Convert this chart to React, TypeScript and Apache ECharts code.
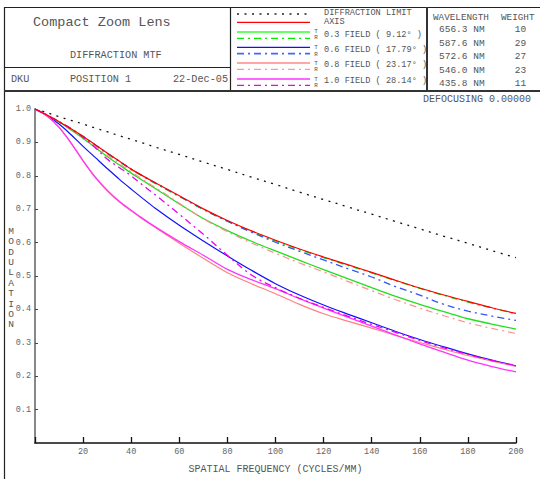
import React, { useEffect, useRef } from "react";
import * as echarts from "echarts";

const freq = [0, 5, 10, 15, 20, 25, 30, 35, 40, 45, 50, 60, 70, 80, 90, 100, 110, 120, 130, 140, 150, 160, 170, 180, 190, 200];
const xTicks = ["20", "40", "60", "80", "100", "120", "140", "160", "180", "200"];
const yTicks = ["0.1", "0.2", "0.3", "0.4", "0.5", "0.6", "0.7", "0.8", "0.9", "1.0"];

const diffLimit = [1.0, 0.989, 0.977, 0.966, 0.955, 0.943, 0.932, 0.92, 0.909, 0.898, 0.886, 0.864, 0.841, 0.819, 0.796, 0.774, 0.751, 0.729, 0.707, 0.685, 0.663, 0.641, 0.619, 0.598, 0.576, 0.555];
const axisMtf = [1.0, 0.982, 0.962, 0.941, 0.918, 0.893, 0.868, 0.844, 0.82, 0.799, 0.779, 0.74, 0.701, 0.666, 0.635, 0.607, 0.581, 0.557, 0.534, 0.511, 0.487, 0.464, 0.443, 0.424, 0.405, 0.388];
const f03T = [1.0, 0.981, 0.961, 0.937, 0.912, 0.885, 0.858, 0.833, 0.808, 0.785, 0.762, 0.716, 0.672, 0.636, 0.604, 0.575, 0.547, 0.519, 0.492, 0.465, 0.439, 0.415, 0.393, 0.372, 0.356, 0.341];
const f03R = [1.0, 0.982, 0.962, 0.94, 0.917, 0.892, 0.867, 0.843, 0.819, 0.798, 0.777, 0.738, 0.699, 0.664, 0.633, 0.605, 0.579, 0.555, 0.532, 0.509, 0.486, 0.463, 0.442, 0.422, 0.404, 0.387];
const f06T = [1.0, 0.98, 0.955, 0.923, 0.888, 0.855, 0.822, 0.79, 0.76, 0.731, 0.703, 0.652, 0.605, 0.56, 0.517, 0.477, 0.443, 0.413, 0.386, 0.36, 0.334, 0.31, 0.288, 0.267, 0.248, 0.231];
const f06R = [1.0, 0.982, 0.962, 0.941, 0.918, 0.893, 0.868, 0.844, 0.82, 0.799, 0.779, 0.739, 0.7, 0.664, 0.631, 0.601, 0.574, 0.548, 0.522, 0.497, 0.468, 0.443, 0.415, 0.395, 0.38, 0.367];
const f08T = [1.0, 0.979, 0.945, 0.898, 0.845, 0.795, 0.755, 0.722, 0.695, 0.669, 0.645, 0.598, 0.553, 0.51, 0.477, 0.447, 0.415, 0.387, 0.365, 0.344, 0.322, 0.301, 0.281, 0.262, 0.245, 0.229];
const f08R = [1.0, 0.982, 0.962, 0.939, 0.915, 0.889, 0.862, 0.837, 0.812, 0.788, 0.765, 0.718, 0.671, 0.633, 0.599, 0.568, 0.539, 0.512, 0.484, 0.456, 0.429, 0.404, 0.381, 0.36, 0.343, 0.328];
const f10T = [1.0, 0.979, 0.945, 0.898, 0.845, 0.797, 0.757, 0.724, 0.697, 0.671, 0.647, 0.603, 0.562, 0.52, 0.489, 0.462, 0.432, 0.404, 0.377, 0.35, 0.323, 0.297, 0.272, 0.248, 0.229, 0.213];
const f10R = [1.0, 0.982, 0.962, 0.94, 0.915, 0.885, 0.85, 0.825, 0.8, 0.771, 0.743, 0.685, 0.625, 0.562, 0.503, 0.465, 0.433, 0.406, 0.38, 0.355, 0.331, 0.307, 0.285, 0.265, 0.247, 0.232];

const fieldLabels = ["0.3 FIELD ( 9.12\u00b0 )", "0.6 FIELD ( 17.79\u00b0 )", "0.8 FIELD ( 23.17\u00b0 )", "1.0 FIELD ( 28.14\u00b0 )"];
const wavelengths = ["656.3 NM", "587.6 NM", "572.6 NM", "546.0 NM", "435.8 NM"];
const weights = ["10", "29", "27", "23", "11"];

const DOT = [2, 5.5];
const DASHDOT = [7, 4, 2, 4];
const FONT = "Liberation Mono";
const TXT = "#555555";

const seriesDefs = [
  { name: "DIFFRACTION LIMIT", data: diffLimit, color: "#111111", dash: DOT, width: 1.3 },
  { name: "0.3 T", data: f03T, color: "#22dd22", dash: "solid", width: 1.3 },
  { name: "0.3 R", data: f03R, color: "#00e000", dash: DASHDOT, width: 1.3 },
  { name: "0.6 T", data: f06T, color: "#1010ff", dash: "solid", width: 1.2 },
  { name: "0.6 R", data: f06R, color: "#3355ff", dash: DASHDOT, width: 1.3 },
  { name: "0.8 T", data: f08T, color: "#ff8080", dash: "solid", width: 1.2 },
  { name: "0.8 R", data: f08R, color: "#ff9090", dash: DASHDOT, width: 1.2 },
  { name: "1.0 T", data: f10T, color: "#ff33ff", dash: "solid", width: 1.3 },
  { name: "1.0 R", data: f10R, color: "#ee00ee", dash: DASHDOT, width: 1.3 },
  { name: "AXIS", data: axisMtf, color: "#ff0000", dash: "solid", width: 1.2 },
];

const legendRows = [
  { y: 14, color: "#222222", dash: DOT, width: 1.5 },
  { y: 22.3, color: "#ff0000", dash: null, width: 1.2 },
  { y: 32, color: "#66ff66", dash: null, width: 2.2 },
  { y: 38.3, color: "#00ee00", dash: DASHDOT, width: 1.3 },
  { y: 47.3, color: "#1010ff", dash: null, width: 1.3 },
  { y: 53.7, color: "#4466ff", dash: DASHDOT, width: 1.8 },
  { y: 63, color: "#ff8888", dash: null, width: 1.3 },
  { y: 69.3, color: "#ff9999", dash: DASHDOT, width: 1.3 },
  { y: 79, color: "#ff66ff", dash: null, width: 2.2 },
  { y: 85.3, color: "#ee00ee", dash: DASHDOT, width: 1.3 },
];

function buildGraphic() {
  const g: any[] = [];
  const ln = (x1: number, y1: number, x2: number, y2: number, w = 1.2, c = "#222") =>
    g.push({ type: "line", silent: true, shape: { x1, y1, x2, y2 }, style: { stroke: c, lineWidth: w } });
  ln(4, 7.5, 540, 7.5);
  ln(4.5, 7, 4.5, 479);
  ln(4, 67.5, 230.5, 67.5);
  ln(230.5, 7, 230.5, 91);
  ln(427, 7, 427, 91, 2, "#333");
  ln(4, 91, 540, 91, 2, "#333");

  const txt = (text: string, x: number, y: number, size: number, align = "left", extra: any = {}) =>
    g.push({
      type: "text",
      silent: true,
      x,
      y,
      style: { text, fill: TXT, font: `${size}px "${FONT}"`, align, verticalAlign: "middle", ...extra },
    });

  txt("Compact Zoom Lens", 33, 22.5, 13.5);
  txt("DIFFRACTION MTF", 70, 55.7, 10.2);
  txt("DKU", 11, 79.5, 10.2);
  txt("POSITION 1", 70, 79.5, 10.2);
  txt("22-Dec-05", 173, 79.5, 10.2);

  legendRows.forEach((r) => {
    g.push({
      type: "line",
      silent: true,
      shape: { x1: 237, y1: r.y, x2: 310, y2: r.y },
      style: { stroke: r.color, lineWidth: r.width, lineDash: r.dash || undefined },
    });
  });
  txt("DIFFRACTION LIMIT", 324, 13.3, 8.6);
  txt("AXIS", 324, 22, 8.6);
  const fieldY = [34.5, 49.5, 64.5, 80.5];
  const tY = [31, 47.5, 63, 79];
  fieldLabels.forEach((f, i) => {
    txt(f, 324, fieldY[i], 8.6);
    txt("T", 316, tY[i], 6, "center");
    txt("R", 316, tY[i] + 6.5, 6, "center");
  });

  txt("WAVELENGTH", 433, 17, 9.3);
  txt("WEIGHT", 501, 17, 9.3);
  const rowY = [29.5, 43, 56.5, 70, 83.5];
  wavelengths.forEach((w, i) => {
    txt(w, 439, rowY[i], 9.5);
    txt(weights[i], 520.5, rowY[i], 9.5, "center");
  });

  txt("DEFOCUSING 0.00000", 423, 99, 10);
  txt("MODULATION".split("").join("\n"), 11, 278, 9.5, "center", { lineHeight: 10.4 });
  return g;
}

export default function App() {
  const ref = useRef<HTMLDivElement>(null);
  useEffect(() => {
    if (!ref.current) return;
    const chart = echarts.init(ref.current, null, { renderer: "svg" });
    chart.setOption({
      animation: false,
      backgroundColor: "#ffffff",
      grid: { left: 35, right: 24, top: 109, bottom: 33, containLabel: false },
      xAxis: {
        type: "value",
        min: 0,
        max: 200,
        interval: 20,
        name: "SPATIAL FREQUENCY (CYCLES/MM)",
        nameLocation: "middle",
        nameGap: 21,
        nameTextStyle: { color: TXT, fontFamily: FONT, fontSize: 10 },
        axisLine: { show: true, lineStyle: { color: "#111", width: 1.5 } },
        axisTick: { show: true, inside: true, length: 6, lineStyle: { color: "#111", width: 1.3 } },
        axisLabel: {
          color: "#666",
          fontFamily: FONT,
          fontSize: 8.5,
          margin: 4,
          formatter: (v: number) => (xTicks.includes(String(v)) ? String(v) : ""),
        },
        splitLine: { show: false },
      },
      yAxis: {
        type: "value",
        min: 0,
        max: 1,
        interval: 0.1,
        axisLine: { show: true, lineStyle: { color: "#888", width: 2 } },
        axisTick: { show: true, inside: true, length: 3, lineStyle: { color: "#444", width: 1 } },
        axisLabel: {
          color: "#666",
          fontFamily: FONT,
          fontSize: 8.5,
          margin: 4,
          formatter: (v: number) => {
            const s = v.toFixed(1);
            return yTicks.includes(s) ? s : "";
          },
        },
        splitLine: { show: false },
      },
      series: seriesDefs.map((s) => ({
        name: s.name,
        type: "line",
        data: freq.map((f, i) => [f, s.data[i]]),
        symbol: "none",
        smooth: 0.35,
        lineStyle: { color: s.color, width: s.width, type: s.dash },
        silent: true,
      })),
      graphic: buildGraphic(),
    });
    return () => chart.dispose();
  }, []);
  return <div ref={ref} style={{ position: "fixed", left: 0, top: 0, width: 540, height: 479 }} />;
}
